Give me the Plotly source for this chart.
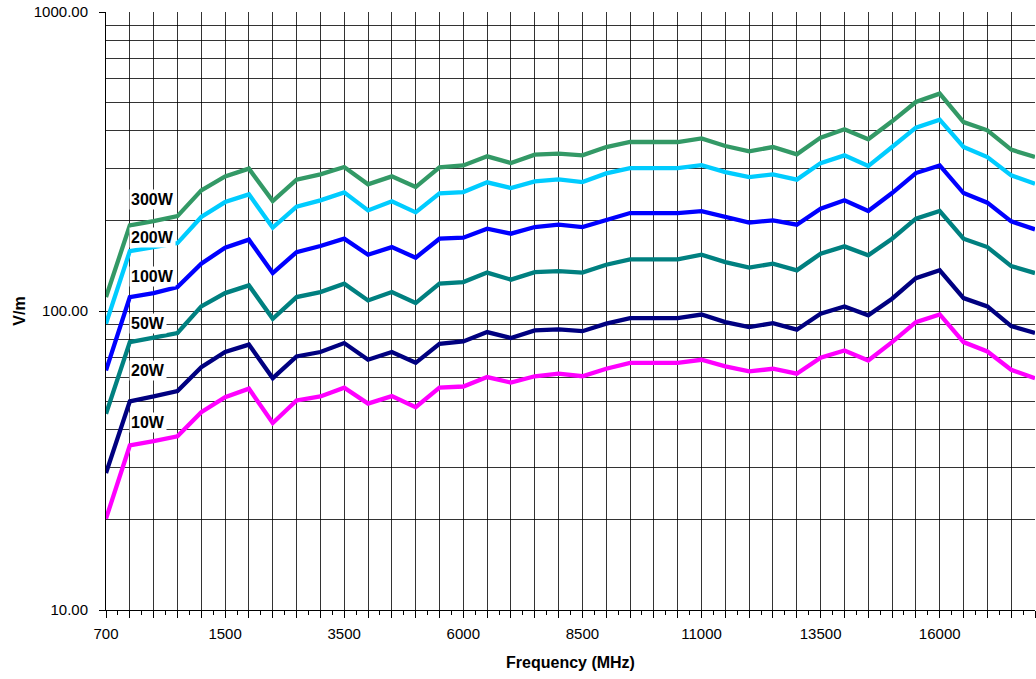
import plotly.graph_objects as go

# Frequency categories (MHz)
freqs = [700, 860, 1020, 1180, 1340, 1500, 1900, 2300, 2700, 3100,
         3500, 4000, 4500, 5000, 5500, 6000, 6500, 7000, 7500, 8000,
         8500, 9000, 9500, 10000, 10500, 11000, 11500, 12000, 12500, 13000,
         13500, 14000, 14500, 15000, 15500, 16000, 16500, 17000, 17500, 18000]
label_freqs = [700, 1500, 3500, 6000, 8500, 11000, 13500, 16000]
y_tickvals = [10, 100, 1000]
y_ticktext = ["10.00", "100.00", "1000.00"]
y_minor = [20, 30, 40, 50, 60, 70, 80, 90, 200, 300, 400, 500, 600, 700, 800, 900]

w300 = [111.3, 193.3, 199.9, 207.7, 253.2, 282.0, 299.3, 233.2, 275.0, 286.4,
        303.0, 265.2, 282.0, 259.7, 302.3, 306.9, 329.0, 312.4, 333.3, 335.9,
        331.5, 353.5, 367.4, 367.4, 367.4, 378.0, 356.3, 341.9, 353.5, 334.1,
        380.1, 405.3, 375.1, 430.9, 500.0, 533.3, 428.5, 402.1, 346.4, 327.2]
w200 = [90.7, 158.6, 163.6, 168.7, 206.2, 231.4, 245.5, 190.0, 223.4, 234.5,
        249.3, 217.0, 232.7, 213.8, 247.4, 249.9, 269.3, 257.8, 271.4, 275.6,
        269.9, 288.6, 300.7, 300.7, 300.7, 307.6, 291.5, 280.5, 286.4, 275.0,
        312.4, 331.5, 305.3, 353.5, 410.5, 436.5, 353.5, 327.2, 284.2, 266.6]
w100 = [63.3, 111.3, 114.8, 120.2, 144.0, 162.8, 173.2, 133.9, 157.4, 164.9,
        174.5, 154.3, 163.6, 150.8, 174.5, 175.9, 188.5, 181.4, 190.9, 194.4,
        190.9, 202.1, 212.6, 212.6, 212.6, 215.9, 206.2, 197.5, 201.0, 194.4,
        219.9, 234.5, 215.9, 248.0, 289.3, 306.9, 248.0, 230.3, 199.5, 187.5]
w50 = [45.3, 78.7, 81.4, 84.4, 103.6, 114.8, 121.8, 94.2, 111.3, 115.7,
       123.4, 108.5, 115.7, 106.3, 123.4, 125.0, 134.4, 127.3, 134.9, 136.0,
       134.4, 142.8, 148.8, 148.8, 148.8, 154.3, 145.7, 139.6, 144.0, 136.8,
       155.5, 164.5, 153.5, 174.5, 203.7, 215.9, 174.5, 163.6, 141.3, 133.9]
w20 = [28.7, 49.9, 51.8, 54.0, 64.9, 72.9, 77.2, 59.6, 70.5, 72.9,
       78.1, 68.7, 72.9, 67.1, 77.7, 79.1, 85.0, 81.2, 86.1, 86.8,
       85.6, 90.7, 94.7, 94.7, 94.7, 97.3, 91.8, 88.3, 91.1, 86.6,
       97.9, 103.6, 96.7, 109.9, 128.8, 136.8, 110.4, 103.6, 89.0, 84.4]
w10 = [20.2, 35.5, 36.7, 38.1, 45.9, 51.5, 55.0, 42.2, 50.2, 51.8,
       55.4, 49.0, 51.9, 47.7, 55.4, 55.9, 60.1, 57.6, 60.5, 61.7,
       60.5, 64.1, 67.1, 67.1, 67.1, 68.7, 65.3, 62.8, 64.1, 61.7,
       69.8, 73.8, 68.3, 78.7, 91.8, 97.4, 78.7, 73.2, 63.6, 59.6]

series_names = ["300W", "200W", "100W", "50W", "20W", "10W"]
series_vals = [w300, w200, w100, w50, w20, w10]
colors = ["#339966", "#00CCFF", "#0000FF", "#008080", "#000080", "#FF00FF"]
label_y_paper = [0.6867, 0.6231, 0.5578, 0.4796, 0.4006, 0.3141]

FONT = "Liberation Sans, Arial, sans-serif"
xidx = list(range(len(freqs)))

fig = go.Figure()
for name, vals, col in zip(series_names, series_vals, colors):
    fig.add_trace(go.Scatter(x=xidx, y=vals, mode="lines", name=name,
                             line=dict(color=col, width=4.3), showlegend=False))

for name, yp in zip(series_names, label_y_paper):
    fig.add_annotation(x=0.96, xref="x", y=yp, yref="paper", text="<b>%s</b>" % name,
                       showarrow=False, xanchor="left", yanchor="middle",
                       bgcolor="white", borderpad=1,
                       font=dict(family=FONT, size=16, color="black"))

ticktext = [str(f) if f in label_freqs else "" for f in freqs]

fig.update_layout(
    width=1036, height=679,
    margin=dict(l=106, r=1, t=12, b=69),
    paper_bgcolor="white", plot_bgcolor="white",
    font=dict(family=FONT, size=15, color="black"),
    xaxis=dict(
        range=[0, len(freqs) - 1], automargin=False,
        tickmode="array", tickvals=xidx, ticktext=ticktext,
        ticks="outside", ticklen=7, tickcolor="black",
        showgrid=True, gridcolor="rgba(0,0,0,0.8)", gridwidth=1,
        showline=True, linecolor="black", linewidth=1,
        zeroline=False,
        minor=dict(tickmode="linear", tick0=0.5, dtick=1, ticks="outside",
                   ticklen=4, tickcolor="black", showgrid=False),
        tickfont=dict(family=FONT, size=15),
        ticklabelstandoff=3,
        title=dict(text="<b>Frequency (MHz)</b>", font=dict(family=FONT, size=16),
                   standoff=15),
    ),
    yaxis=dict(
        type="log", range=[1, 3], automargin=False,
        tickmode="array", tickvals=y_tickvals, ticktext=y_ticktext,
        ticks="outside", ticklen=6, tickcolor="black",
        showgrid=True, gridcolor="rgba(0,0,0,0.8)", gridwidth=1,
        showline=True, linecolor="black", linewidth=1,
        zeroline=False,
        minor=dict(tickmode="array", tickvals=y_minor, showgrid=True,
                   gridcolor="rgba(0,0,0,0.8)", gridwidth=1, ticks=""),
        tickfont=dict(family=FONT, size=15),
        ticklabelstandoff=8,
        title=dict(text="<b>V/m</b>", font=dict(family=FONT, size=16), standoff=4),
    ),
)

fig.write_html("out.html", config={"displayModeBar": False},
               post_script="document.body.style.margin='0';document.body.style.overflow='hidden';")
